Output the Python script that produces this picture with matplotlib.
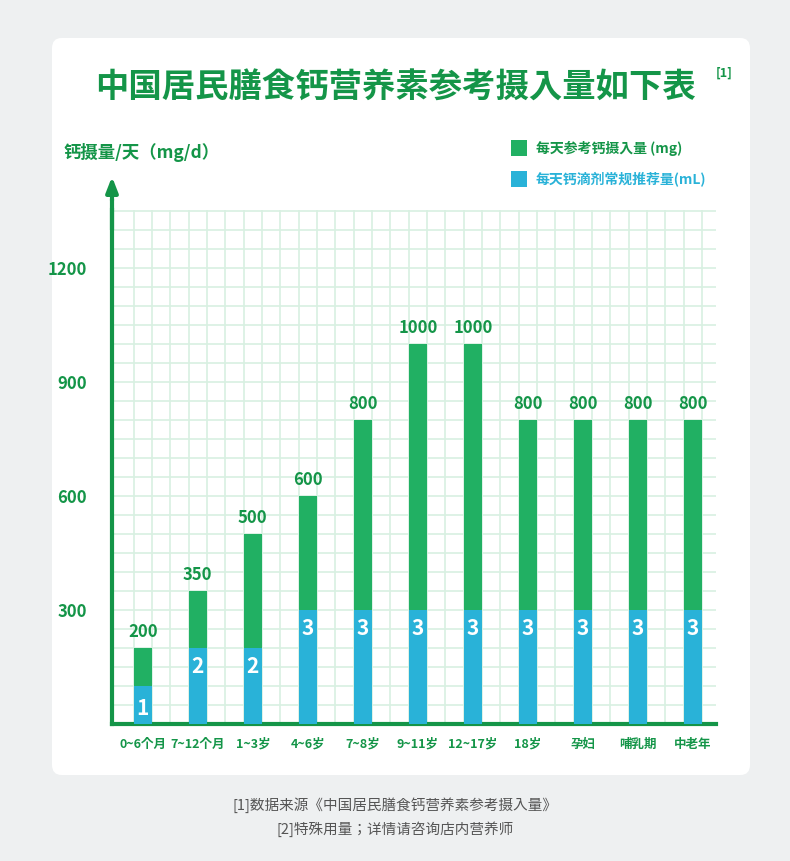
import matplotlib
matplotlib.use("Agg")
import matplotlib.pyplot as plt
from matplotlib import font_manager as fm
from matplotlib.patches import FancyBboxPatch
import numpy as np

cjk_names = []
for f in fm.findSystemFonts():
    if "CJK" in f or "cjk" in f.lower():
        try:
            fm.fontManager.addfont(f)
            cjk_names.append(fm.FontProperties(fname=f).get_name())
        except Exception:
            pass
fams = [n for n in ["Noto Sans CJK SC", "Noto Sans CJK JP"] if n in set(cjk_names)] + sorted(set(cjk_names)) + ["DejaVu Sans"]
plt.rcParams['font.family'] = fams

categories = ["0~6个月", "7~12个月", "1~3岁", "4~6岁", "7~8岁", "9~11岁", "12~17岁", "18岁", "孕妇", "哺乳期", "中老年"]
calcium_mg = [200, 350, 500, 600, 800, 1000, 1000, 800, 800, 800, 800]
drops_ml = [1, 2, 2, 3, 3, 3, 3, 3, 3, 3, 3]
yticks = [300, 600, 900, 1200]

GREEN = "#21b063"
BLUE = "#29b2d8"
DARK = "#149548"

fig = plt.figure(figsize=(7.9, 8.61), dpi=100)
fig.patch.set_facecolor("#eef0f1")
card = FancyBboxPatch((52/790, 1-775/861), 698/790, 737/861, boxstyle="round,pad=0,rounding_size=0.012",
                      transform=fig.transFigure, facecolor="white", edgecolor="none", zorder=0)
fig.patches.append(card)

ax = fig.add_axes([112/790, 1-724/861, 604/790, 514/861])
ax.set_zorder(2)
ax.set_facecolor("none")
x = np.arange(len(categories))
ax.set_xlim(-0.56, 10.42)
ax.set_ylim(0, 1352)
for gx in np.arange(-1/6, 10.5, 1/3):
    ax.axvline(gx, color="#d8f0e2", lw=1.2, zorder=0)
for gy in np.arange(50, 1360, 50):
    ax.axhline(gy, color="#d8f0e2", lw=1.2, zorder=0)

ax.bar(x, calcium_mg, width=1/3, color=GREEN, zorder=2)
ax.bar(x, [d*100 for d in drops_ml], width=1/3, color=BLUE, zorder=3)
for xi, v, d in zip(x, calcium_mg, drops_ml):
    ax.text(xi, v + 18, str(v), ha="center", va="bottom", fontsize=12, fontweight="bold", color=DARK, zorder=4)
    ax.text(xi, d*100 - 50 - (8 if d == 1 else 0), str(d), ha="center", va="center", fontsize=15,
            fontweight="bold", color="white", zorder=4)

for s in ["top", "right"]:
    ax.spines[s].set_visible(False)
ax.spines["left"].set_color(DARK); ax.spines["left"].set_linewidth(3)
ax.spines["bottom"].set_color(DARK); ax.spines["bottom"].set_linewidth(3)
ax.set_yticks(yticks)
ax.set_yticklabels([str(t) for t in yticks], fontsize=12, fontweight="bold", color=DARK)
ax.set_xticks(x)
ax.set_xticklabels(categories, fontsize=9, fontweight="bold", color=DARK)
ax.tick_params(length=0, pad=10)
ax.tick_params(axis="y", pad=18)
ax.plot([-0.56, -0.56], [1300, 1380], color=DARK, lw=3, clip_on=False, solid_capstyle="butt")
ax.annotate("", xy=(-0.56, 1352 + 95), xytext=(-0.56, 1370), xycoords="data",
            arrowprops=dict(arrowstyle="-|>,head_width=0.35,head_length=0.9", color=DARK, lw=3),
            annotation_clip=False)

fig.text(0.5, 1-88/861, "中国居民膳食钙营养素参考摄入量如下表", ha="center", va="center",
         fontsize=24, fontweight="bold", color=DARK)
fig.text(716/790, 1-73/861, "[1]", ha="left", va="center", fontsize=9, fontweight="bold", color=DARK)
fig.text(63/790, 1-153/861, "钙摄量/天（mg/d）", ha="left", va="center", fontsize=12.5, fontweight="bold", color=DARK)

fig.patches.append(FancyBboxPatch((511/790, 1-156/861), 16/790, 16/861, boxstyle="square,pad=0",
                                  transform=fig.transFigure, facecolor=GREEN, edgecolor="none"))
fig.text(536/790, 1-148/861, "每天参考钙摄入量 (mg)", ha="left", va="center", fontsize=10, fontweight="bold", color=DARK)
fig.patches.append(FancyBboxPatch((511/790, 1-187/861), 16/790, 16/861, boxstyle="square,pad=0",
                                  transform=fig.transFigure, facecolor=BLUE, edgecolor="none"))
fig.text(536/790, 1-179/861, "每天钙滴剂常规推荐量(mL)", ha="left", va="center", fontsize=10, fontweight="bold", color=BLUE)

fig.text(0.5, 1-805/861, "[1]数据来源《中国居民膳食钙营养素参考摄入量》", ha="center", va="center", fontsize=10.5, color="#555555")
fig.text(0.5, 1-829/861, "[2]特殊用量；详情请咨询店内营养师", ha="center", va="center", fontsize=10.5, color="#555555")

fig.savefig("out.png", dpi=100, facecolor=fig.get_facecolor())
